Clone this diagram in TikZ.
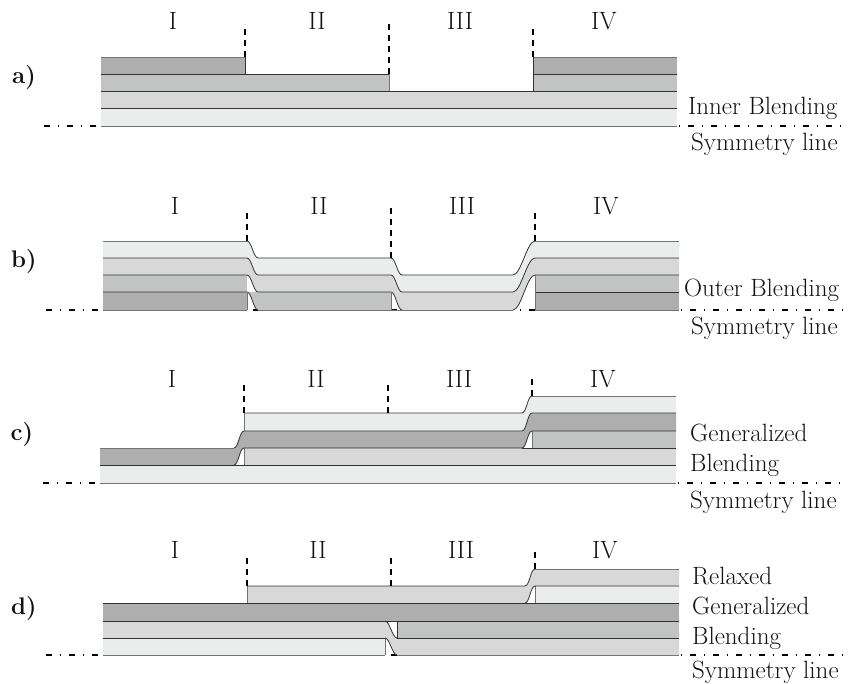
\documentclass[tikz,border=0pt]{standalone}
\definecolor{dk}{HTML}{AEAEAE}
\definecolor{md}{HTML}{C2C4C3}
\definecolor{lt}{HTML}{D8D8D8}
\definecolor{vl}{HTML}{EBEDEC}
\definecolor{ink}{HTML}{333333}
\definecolor{txt}{HTML}{111111}
\tikzset{
  ln/.style={draw=ink,line width=0.8pt},
  gr/.style={draw=black!55,line width=0.9pt},
  sep/.style={draw=black,line width=2.3pt,dash pattern=on 6pt off 5pt},
  sym/.style={draw=black,line width=1.8pt,dash pattern=on 6pt off 7.5pt on 1.2pt off 8.3pt},
  sc/.style={out=0,in=180,distance=4.5pt},
  sw/.style={out=0,in=180,distance=8pt},
  lab/.style={anchor=base,font=\fontsize{25}{30}\selectfont,text=txt,inner sep=0pt},
  rlab/.style={anchor=base west,font=\fontsize{25}{30}\selectfont,text=txt,inner sep=0pt},
  pan/.style={anchor=base,font=\fontsize{24}{30}\selectfont\bfseries,text=txt,inner sep=0pt}
}
\begin{document}
\begin{tikzpicture}[x=1pt,y=-1pt]
\useasboundingbox (0,0) rectangle (859,684);
% ---------- a
\draw[sym] (44,126) -- (842,126);
\fill[vl] (101,108.5) rectangle (677,126);
\fill[lt] (101,91.5) rectangle (677,108.5);
\fill[md] (101,74) rectangle (389,91.5);
\fill[md] (533,74) rectangle (677,91.5);
\fill[dk] (101,57) rectangle (245,74);
\fill[dk] (533,57) rectangle (677,74);
\draw[gr] (101,57) -- (245,57);
\draw[gr] (533,57) -- (677,57);
\draw[ln] (245,57) -- (245,74);
\draw[ln] (101,74) -- (389,74);
\draw[gr] (389,74) -- (389,91.5);
\draw[ln] (533,57) -- (533,91.5);
\draw[ln] (533,74) -- (677,74);
\draw[ln] (101,91.5) -- (677,91.5);
\draw[ln] (101,108.5) -- (677,108.5);
\draw[gr,line width=0.6pt] (101,126) -- (677,126);
\draw[sep] (245,57) -- (245,24);
\draw[sep] (389,74) -- (389,22);
\draw[sep] (533,57) -- (533,27);
\node[lab] (a1) at (173,30) {I};
\node[lab] (a2) at (317,30) {II};
\node[lab] (a3) at (460,30) {III};
\node[lab] (a4) at (604,30) {IV};
\node[pan] (a) at (24,84) {a)};
\node[rlab] (a5) at (688,115) {Inner Blending};
\node[rlab] (a6) at (691,151) {Symmetry line};
% ---------- b
\draw[sym] (46,310) -- (844,310);
\fill[dk] (103,292) rectangle (247,310);
\fill[dk] (535,292) rectangle (679,310);
\fill[md] (103,275) rectangle (247,292);
\fill[md] (535,275) rectangle (679,292);
\fill[md] (247,292) to[sc] (258,310) -- (391,310) -- (391,292) -- cycle;
\fill[lt] (103,258) -- (247,258) to[sc] (258,275) -- (391,275) to[sc] (402,292) -- (513,292) to[sw] (535,258) -- (679,258) -- (679,275) -- (535,275) to[out=180,in=0,distance=8pt] (513,310) -- (402,310) to[out=180,in=0,distance=4.5pt] (391,292) -- (258,292) to[out=180,in=0,distance=4.5pt] (247,275) -- (103,275) -- cycle;
\fill[vl] (103,241) -- (247,241) to[sc] (258,258) -- (391,258) to[sc] (402,275) -- (513,275) to[sw] (535,241) -- (679,241) -- (679,258) -- (535,258) to[out=180,in=0,distance=8pt] (513,292) -- (402,292) to[out=180,in=0,distance=4.5pt] (391,275) -- (258,275) to[out=180,in=0,distance=4.5pt] (247,258) -- (103,258) -- cycle;
\draw[gr] (103,241) -- (247,241);
\draw[ln] (247,241) to[sc] (258,258) -- (391,258) to[sc] (402,275) -- (513,275) to[sw] (535,241);
\draw[gr] (535,241) -- (679,241);
\draw[ln] (103,258) -- (247,258) to[sc] (258,275) -- (391,275) to[sc] (402,292) -- (513,292) to[sw] (535,258) -- (679,258);
\draw[ln] (103,275) -- (247,275) to[sc] (258,292) -- (391,292) to[sc] (402,310) (513,310) to[sw] (535,275) -- (679,275);
\draw[ln] (103,292) -- (247,292) to[sc] (258,310);
\draw[ln] (535,292) -- (679,292);
\draw[gr] (247,292) -- (247,310);
\draw[gr] (391,292) -- (391,310);
\draw[gr] (535,275) -- (535,310);
\draw[gr,line width=0.6pt] (103,310) -- (247,310) (258,310) -- (513,310) (535,310) -- (679,310);
\draw[sep] (247,241) -- (247,210);
\draw[sep] (391,258) -- (391,205);
\draw[sep] (535,241) -- (535,210);
\node[lab] (b1) at (175,215) {I};
\node[lab] (b2) at (319,215) {II};
\node[lab] (b3) at (462,215) {III};
\node[lab] (b4) at (606,215) {IV};
\node[pan] (b) at (24,268) {b)};
\node[rlab] (b5) at (684,297) {Outer Blending};
\node[rlab] (b6) at (691,335) {Symmetry line};
% ---------- c
\draw[sym] (43,483) -- (842,483);
\fill[vl] (100,465) rectangle (676,483);
\fill[lt] (244,448) rectangle (676,465);
\fill[md] (532,431) rectangle (676,448);
\fill[dk] (100,448) -- (234,448) to[sc] (244,431) -- (522,431) to[sc] (532,413) -- (676,413) -- (676,431) -- (532,431) to[out=180,in=0,distance=4.5pt] (522,448) -- (244,448) to[out=180,in=0,distance=4.5pt] (234,465) -- (100,465) -- cycle;
\fill[vl] (244,413) -- (522,413) to[sc] (532,396) -- (676,396) -- (676,413) -- (532,413) to[out=180,in=0,distance=4.5pt] (522,431) -- (244,431) -- cycle;
\draw[gr] (100,448) -- (234,448);
\draw[ln] (234,448) to[sc] (244,431) -- (522,431) to[sc] (532,413) -- (676,413);
\draw[ln] (244,413) -- (522,413) to[sc] (532,396);
\draw[gr] (532,396) -- (676,396);
\draw[ln] (234,465) to[sc] (244,448) -- (522,448) to[sc] (532,431) -- (676,431);
\draw[ln] (100,465) -- (676,465);
\draw[ln] (522,448) -- (676,448);
\draw[gr] (244,413) -- (244,431);
\draw[gr] (244,448) -- (244,465);
\draw[gr] (532,431) -- (532,448);
\draw[gr,line width=0.6pt] (100,483) -- (676,483);
\draw[sep] (244,413) -- (244,383);
\draw[sep] (388,413) -- (388,385);
\draw[sep] (532,396) -- (532,379);
\node[lab] (c1) at (172,388) {I};
\node[lab] (c2) at (316,388) {II};
\node[lab] (c3) at (459,388) {III};
\node[lab] (c4) at (603,388) {IV};
\node[pan] (c) at (22,440) {c)};
\node[rlab] (c5) at (690,441) {Generalized};
\node[rlab] (c6) at (690,471) {Blending};
\node[rlab] (c7) at (690,508) {Symmetry line};
% ---------- d
\draw[sym] (46,655) -- (844,655);
\fill[vl] (103,638) rectangle (385,655);
\fill[vl] (535,586) rectangle (679,603);
\fill[lt] (103,621) -- (385,621) to[sc] (397,638) -- (385,638) -- (103,638) -- cycle;
\fill[lt] (385,638) to[sc] (397,655) -- (679,655) -- (679,638) -- (397,638) to[out=180,in=0,distance=4.5pt] (385,621) -- cycle;
\fill[md] (397,621) rectangle (679,638);
\fill[lt] (247,586) -- (525,586) to[sc] (535,569) -- (679,569) -- (679,586) -- (535,586) to[out=180,in=0,distance=4.5pt] (525,603) -- (247,603) -- cycle;
\fill[dk] (103,603) rectangle (679,621);
\draw[gr] (247,586) -- (247,603);
\draw[gr] (535,586) -- (535,603);
\draw[gr] (385,638) -- (385,655);
\draw[ln] (397,621) -- (397,638);
\draw[ln] (247,586) -- (525,586) to[sc] (535,569);
\draw[gr] (535,569) -- (679,569);
\draw[ln] (525,603) to[sc] (535,586) -- (679,586);
\draw[ln] (103,603) -- (679,603);
\draw[ln] (103,621) -- (679,621);
\draw[ln] (385,621) to[sc] (397,638);
\draw[ln] (385,638) to[sc] (397,655);
\draw[ln] (103,638) -- (385,638) (397,638) -- (679,638);
\draw[gr,line width=0.6pt] (103,655) -- (385,655) (397,655) -- (679,655);
\draw[sep] (247,586) -- (247,556);
\draw[sep] (391,586) -- (391,555);
\draw[sep] (535,569) -- (535,552);
\node[lab] (d1) at (175,558) {I};
\node[lab] (d2) at (318,558) {II};
\node[lab] (d3) at (461,558) {III};
\node[lab] (d4) at (605,558) {IV};
\node[pan] (d) at (24,614) {d)};
\node[rlab] (d5) at (692,584) {Relaxed};
\node[rlab] (d6) at (692,614) {Generalized};
\node[rlab] (d7) at (692,644) {Blending};
\node[rlab] (d8) at (692,678) {Symmetry line};
\end{tikzpicture}
\end{document}
